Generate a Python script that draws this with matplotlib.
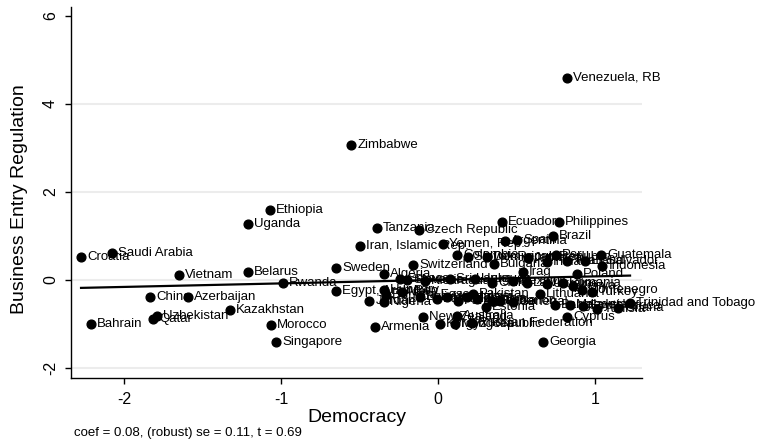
import matplotlib
matplotlib.use("Agg")
import matplotlib.pyplot as plt
import numpy as np

plt.rcParams['font.family'] = ['Liberation Sans', 'DejaVu Sans']
plt.rcParams['axes.unicode_minus'] = False

countries = [
    "Venezuela, RB", "Zimbabwe", "Ethiopia", "Uganda", "Croatia", "Saudi Arabia",
    "Vietnam", "Belarus", "Rwanda", "China", "Azerbaijan", "Kazakhstan",
    "Uzbekistan", "Qatar", "Bahrain", "Morocco", "Singapore", "Sweden",
    "Egypt, Arab Rep.", "Tanzania", "Iran, Islamic Rep.", "Armenia", "Jordan",
    "Algeria", "Switzerland", "Hungary", "Burkina Faso", "Nigeria",
    "Czech Republic", "Yemen, Rep.", "Ecuador", "Philippines", "Brazil",
    "Argentina", "Spain", "Colombia", "Slovak Republic", "Dominican Republic",
    "Bulgaria", "Iraq", "Peru", "India", "Jamaica", "Thailand", "El Salvador",
    "Guatemala", "Indonesia", "Poland", "Greece", "Slovenia", "Nicaragua",
    "Sri Lanka", "Uruguay", "Chile", "Mexico", "Latvia", "Ukraine", "Romania",
    "Kenya", "Montenegro", "Turkey", "Mali", "Bolivia", "Panama", "Honduras",
    "Paraguay", "Malawi", "Pakistan", "Zambia", "Serbia", "Estonia", "Lebanon",
    "Senegal", "Lithuania", "Bangladesh", "Malaysia", "South Africa", "Tunisia",
    "Ghana", "Trinidad and Tobago", "New Zealand", "Australia", "Cyprus",
    "Kyrgyz Republic", "Mongolia", "Russian Federation", "Georgia",
]

democracy = [
    0.822, -0.554, -1.070, -1.210, -2.274, -2.076,
    -1.650, -1.210, -0.987, -1.834, -1.592, -1.325,
    -1.790, -1.815, -2.210, -1.064, -1.032, -0.650,
    -0.650, -0.389, -0.497, -0.401, -0.439,
    -0.344, -0.159, -0.344, -0.331, -0.344,
    -0.121, 0.029, 0.408, 0.771, 0.732,
    0.427, 0.503, 0.121, 0.191, 0.312,
    0.357, 0.541, 0.752, 0.694, 0.573, 0.822, 0.936,
    1.038, 1.045, 0.885, -0.242, -0.197, -0.083,
    0.076, 0.236, 0.344, 0.478, 0.567, 0.694, 0.796,
    0.860, 0.917, 0.981, -0.229, -0.115, -0.006, 0.057,
    0.127, 0.185, 0.223, 0.248, 0.344, 0.306, 0.395,
    0.478, 0.650, 0.745, 0.841, 0.924, 1.013,
    1.146, 1.223, -0.096, 0.121, 0.822,
    0.013, 0.108, 0.217, 0.669,
]

regulation = [
    4.60, 3.06, 1.60, 1.28, 0.53, 0.60,
    0.10, 0.19, -0.06, -0.40, -0.40, -0.69,
    -0.81, -0.88, -1.01, -1.03, -1.42, 0.26,
    -0.26, 1.19, 0.78, -1.06, -0.49,
    0.13, 0.33, -0.22, -0.35, -0.51,
    1.13, 0.81, 1.31, 1.31, 0.99,
    0.88, 0.90, 0.56, 0.53, 0.53,
    0.35, 0.19, 0.56, 0.40, 0.49, 0.44, 0.42,
    0.56, 0.31, 0.13, 0.01, -0.01, -0.03,
    0.01, 0.03, -0.08, -0.03, -0.06, -0.10, -0.06,
    -0.15, -0.22, -0.28, -0.28, -0.40, -0.44, -0.40,
    -0.49, -0.38, -0.33, -0.44, -0.49, -0.62, -0.49,
    -0.51, -0.33, -0.56, -0.58, -0.60, -0.67,
    -0.65, -0.53, -0.85, -0.83, -0.85,
    -1.01, -1.01, -0.99, -1.42,
]

coef = 0.08
note = "coef = 0.08, (robust) se = 0.11, t = 0.69"

fig = plt.figure(figsize=(7.61, 4.48), dpi=100)
ax = fig.add_axes([0.0933, 0.1563, 0.7503, 0.8277])

# light horizontal grid, none at the top tick
for v in [-2, 0, 2, 4]:
    ax.axhline(v, color='#ececec', lw=1.5, zorder=0)

ax.plot(democracy, regulation, 'o', color='black', ms=6.3, zorder=3)
for name, x, y in zip(countries, democracy, regulation):
    ax.annotate(name, (x, y), xytext=(4.5, 0), textcoords='offset points',
                ha='left', va='center', fontsize=9.5, color='black', zorder=4)

xs = np.array([min(democracy), max(democracy)])
ax.plot(xs, coef * xs, color='black', lw=1.6, zorder=2)

ax.set_xlim(-2.338, 1.299)
ax.set_ylim(-2.23, 6.2)
ax.set_xticks([-2, -1, 0, 1])
ax.set_yticks([-2, 0, 2, 4, 6])
for lbl in ax.get_yticklabels():
    lbl.set_rotation(90)
    lbl.set_va('center')
ax.tick_params(axis='both', labelsize=11.5, length=4.3, width=1.0, color='black')
ax.tick_params(axis='x', pad=6)
ax.tick_params(axis='y', pad=5)

for s in ['top', 'right']:
    ax.spines[s].set_visible(False)
for s in ['left', 'bottom']:
    ax.spines[s].set_linewidth(1.0)

ax.set_xlabel('Democracy', fontsize=14, labelpad=1)
ax.set_ylabel('Business Entry Regulation', fontsize=14)
ax.yaxis.set_label_coords(-0.075, 0.482)

fig.text(0.097, 0.0335, note, fontsize=9.5, ha='left', va='center')

fig.savefig('out.png', dpi=100)
